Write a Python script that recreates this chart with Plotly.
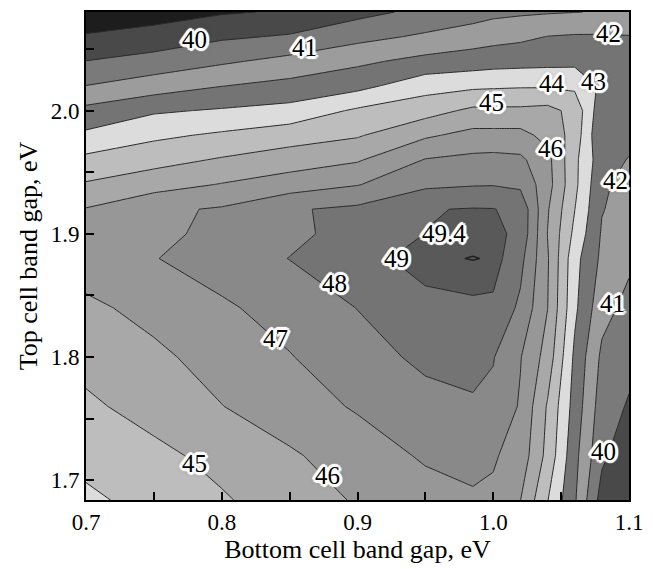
import plotly.graph_objects as go

# Bottom-cell band gap grid (eV)
bottom_gap = [0.70, 0.75, 0.80, 0.85, 0.90, 0.95, 0.985, 1.00, 1.02, 1.04, 1.06, 1.08, 1.10]
# Top-cell band gap grid (eV)
top_gap = [1.68, 1.72, 1.76, 1.80, 1.84, 1.88, 1.90, 1.92, 1.94, 1.96, 1.98, 2.00, 2.02, 2.04, 2.06, 2.08]

# Efficiency (%), one row per top-cell gap
eff_168 = [43.76, 44.28, 44.85, 45.45, 46.05, 46.55, 46.85, 46.8, 45.95, 43.98, 42.1, 39.5, 39.3]
eff_172 = [44.29, 44.75, 45.3, 45.87, 46.5, 47.12, 47.25, 47.1, 46.6, 44.7, 42.3, 40.2, 39.3]
eff_176 = [44.82, 45.38, 45.98, 46.55, 47.1, 47.68, 47.86, 47.78, 46.9, 44.9, 42.6, 40.5, 39.9]
eff_180 = [45.32, 45.8, 46.38, 46.95, 47.62, 48.2, 48.36, 48.05, 47.05, 45.6, 42.8, 40.8, 40.3]
eff_184 = [45.8, 46.3, 46.85, 47.4, 48.02, 48.76, 48.86, 48.83, 47.8, 46.02, 43.2, 41.35, 40.7]
eff_188 = [46.5, 46.96, 47.48, 48.02, 48.71, 49.3, 49.42, 49.36, 48.3, 46.1, 43.33, 41.8, 41.2]
eff_190 = [46.4, 46.78, 47.24, 47.77, 48.37, 49.01, 49.2, 49.25, 48.75, 45.98, 43.75, 41.9, 41.5]
eff_192 = [46.05, 46.8, 47.1, 47.9, 48.2, 48.95, 49.05, 49.03, 48.75, 46.1, 44.02, 42.05, 41.6]
eff_194 = [45.1, 45.6, 46.05, 46.5, 46.95, 47.8, 47.93, 47.95, 47.8, 46.4, 44.25, 42.15, 41.7]
eff_196 = [44.25, 44.65, 45.1, 45.5, 45.9, 47.05, 47.25, 47.3, 47.2, 46.3, 44.25, 42.4, 41.95]
eff_198 = [43.2, 43.8, 44.15, 44.55, 44.9, 45.85, 46.3, 46.3, 46.3, 45.7, 44.6, 42.05, 42.3]
eff_200 = [42.27, 42.87, 43.1, 43.33, 44.15, 44.6, 45.2, 45.2, 45.2, 45.3, 44.7, 42.3, 42.5]
eff_202 = [41.02, 41.5, 41.98, 42.3, 42.7, 43.62, 43.8, 43.85, 43.9, 43.9, 43.8, 42.8, 42.6]
eff_204 = [40.02, 40.4, 40.85, 41.3, 41.8, 42.3, 42.5, 42.6, 42.65, 42.7, 42.75, 42.7, 42.6]
eff_206 = [39.1, 39.35, 39.85, 40.1, 40.7, 41.15, 41.5, 41.65, 41.8, 42.02, 42.1, 42.1, 42.05]
eff_208 = [38.3, 38.6, 38.9, 39.1, 39.7, 40.25, 40.55, 40.75, 40.85, 40.92, 40.98, 41.05, 41.1]

efficiency = [eff_168, eff_172, eff_176, eff_180, eff_184, eff_188, eff_190, eff_192,
              eff_194, eff_196, eff_198, eff_200, eff_202, eff_204, eff_206, eff_208]

# Band fill colours: <39, 39-40, ..., 48-49, >49
band_colors = ['#1d1d1d', '#494949', '#7a7a7a', '#9c9c9c', '#747474', '#dcdcdc',
               '#bdbdbd', '#a8a8a8', '#979797', '#898989', '#747474', '#595959']

# Contour label texts and their positions (bottom gap, top gap)
label_text = ['40', '41', '42', '44', '43', '45', '46', '42', '41', '40',
              '49.4', '49', '48', '47', '45', '46']
label_x = [0.7801, 0.8610, 1.0846, 1.0434, 1.0735, 0.9985, 1.0419, 1.0904, 1.0875, 1.0809,
           0.9640, 0.9287, 0.8831, 0.8397, 0.7801, 0.8779]
label_y = [2.0573, 2.0508, 2.0629, 2.0218, 2.0234, 2.0065, 1.9694, 1.9435, 1.8435, 1.7234,
           1.9000, 1.8798, 1.8597, 1.8153, 1.7137, 1.7040]

n_bands = len(band_colors)
colorscale = [[j / (n_bands - 1), c] for j, c in enumerate(band_colors)]

fig = go.Figure()
fig.add_trace(go.Contour(
    x=bottom_gap, y=top_gap, z=efficiency,
    autocontour=False,
    contours=dict(start=39, end=49, size=1, coloring='fill', showlabels=False),
    colorscale=colorscale,
    line=dict(color='#2a2a2a', width=1, smoothing=0),
    showscale=False, hoverinfo='skip'))
fig.add_trace(go.Contour(
    x=bottom_gap, y=top_gap, z=efficiency,
    autocontour=False,
    contours=dict(start=49.4, end=49.4, size=1, coloring='none', showlabels=False),
    line=dict(color='#222222', width=1.6, smoothing=0),
    showscale=False, hoverinfo='skip'))

white_parts = []
for dx, dy in [(2, 0), (-2, 0), (0, 2), (0, -2), (2, 2), (-2, -2), (2, -2), (-2, 2),
               (3, 0), (-3, 0), (0, 3), (0, -3), (3, 1), (-3, -1), (1, 3), (-1, -3)]:
    white_parts.append(f"{dx}px {dy}px 1px #ffffff")
halo = ", ".join(white_parts) + ", 0px 0px 5px rgba(0,0,0,0.9)"

for t, lx, ly in zip(label_text, label_x, label_y):
    fig.add_annotation(x=lx, y=ly, text=t, showarrow=False,
                       font=dict(family='Liberation Serif', size=25, color='black', shadow=halo))

serif = 'Liberation Serif'
fig.update_xaxes(range=[0.7, 1.1], dtick=0.1, tick0=0.7, tickformat='.1f',
                 ticks='inside', ticklen=8, tickwidth=2, tickcolor='black',
                 minor=dict(dtick=0.05, ticks='inside', ticklen=8, tickwidth=2, tickcolor='black'),
                 showline=True, linewidth=2, linecolor='black', mirror=True,
                 showgrid=False, zeroline=False,
                 tickfont=dict(family=serif, size=23, color='black'),
                 title=dict(text='Bottom cell band gap, eV', font=dict(family=serif, size=26, color='black'),
                            standoff=4))
fig.update_yaxes(range=[1.684, 2.08], dtick=0.1, tick0=1.7, tickformat='.1f',
                 ticks='inside', ticklen=8, tickwidth=2, tickcolor='black',
                 minor=dict(dtick=0.05, ticks='inside', ticklen=8, tickwidth=2, tickcolor='black'),
                 showline=True, linewidth=2, linecolor='black', mirror=True,
                 showgrid=False, zeroline=False,
                 tickfont=dict(family=serif, size=23, color='black'),
                 title=dict(text='Top cell band gap, eV', font=dict(family=serif, size=26, color='black'),
                            standoff=6))
fig.update_layout(width=653, height=569, margin=dict(l=86, r=23, t=10, b=69),
                  paper_bgcolor='white', plot_bgcolor='white', showlegend=False)
fig.write_html('out.html')
